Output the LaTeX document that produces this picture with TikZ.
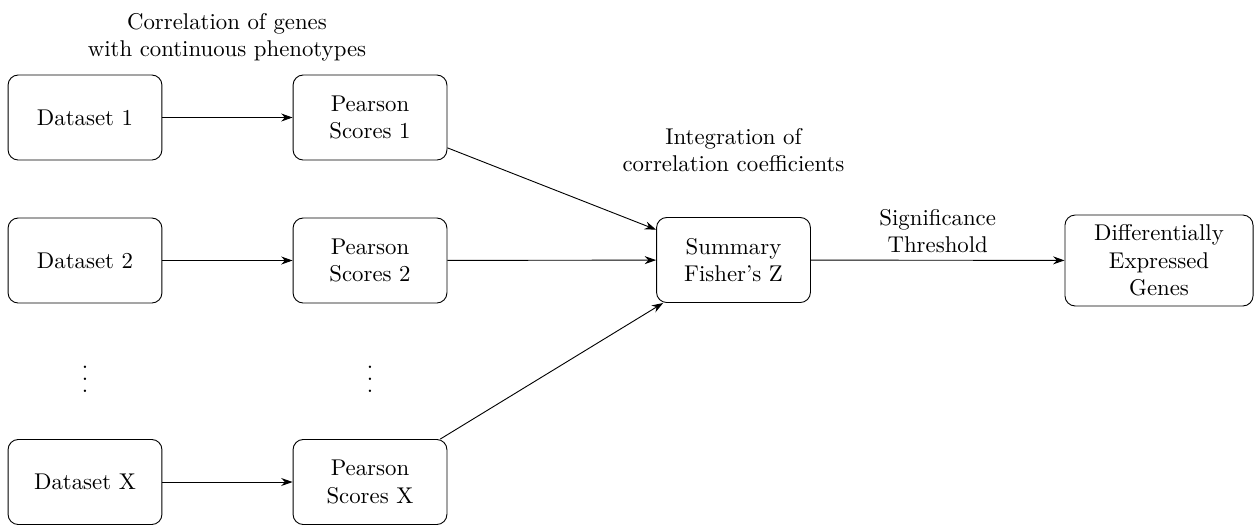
\documentclass[tikz,border=0pt]{standalone}
\usetikzlibrary{arrows.meta}
\newcommand{\myvdots}{\vbox{\baselineskip5.3pt\lineskiplimit0pt\hbox{.}\hbox{.}\hbox{.}}}
\begin{document}
\begin{tikzpicture}[x=0.4386pt,y=-0.4386pt,
  box/.style={draw,rounded corners=4.5pt,align=center,minimum width=67.5pt,minimum height=37.3pt,inner sep=2pt},
  conn/.style={-{Stealth[length=5pt,width=3.5pt]}},
  lbl/.style={align=center,inner sep=0pt}]
\useasboundingbox (0,0) rectangle (1259,524);
\node[box] (d1) at (85,117.5) {Dataset 1};
\node[box] (p1) at (370,117.5) {Pearson\\Scores 1};
\node[box] (d2) at (85,260.5) {Dataset 2};
\node[box] (p2) at (370,260.5) {Pearson\\Scores 2};
\node[box] (dx) at (85,482) {Dataset X};
\node[box] (px) at (370,482) {Pearson\\Scores X};
\node[box] (sum) at (733.5,260) {Summary\\Fisher's Z};
\node[box,minimum width=82.5pt,minimum height=39.9pt] (deg) at (1159,260.5) {Differentially\\Expressed\\Genes};
\node[inner sep=0pt] (dots1) at (85,379) {\myvdots};
\node[inner sep=0pt] (dots2) at (370,379) {\myvdots};
\node[lbl] (l1) at (227,37) {Correlation of genes\\with continuous phenotypes};
\node[lbl] (l2) at (733.5,150) {Integration of\\correlation coefficients};
\draw[conn] (d1) -- (p1);
\draw[conn] (d2) -- (p2);
\draw[conn] (dx) -- (px);
\draw[conn] (p1) -- (sum);
\draw[conn] (p2) -- (sum);
\draw[conn] (px) -- (sum);
\draw[conn] (sum) -- node[lbl,above=3pt,name=l3] {Significance\\Threshold} (deg);
\end{tikzpicture}
\end{document}
